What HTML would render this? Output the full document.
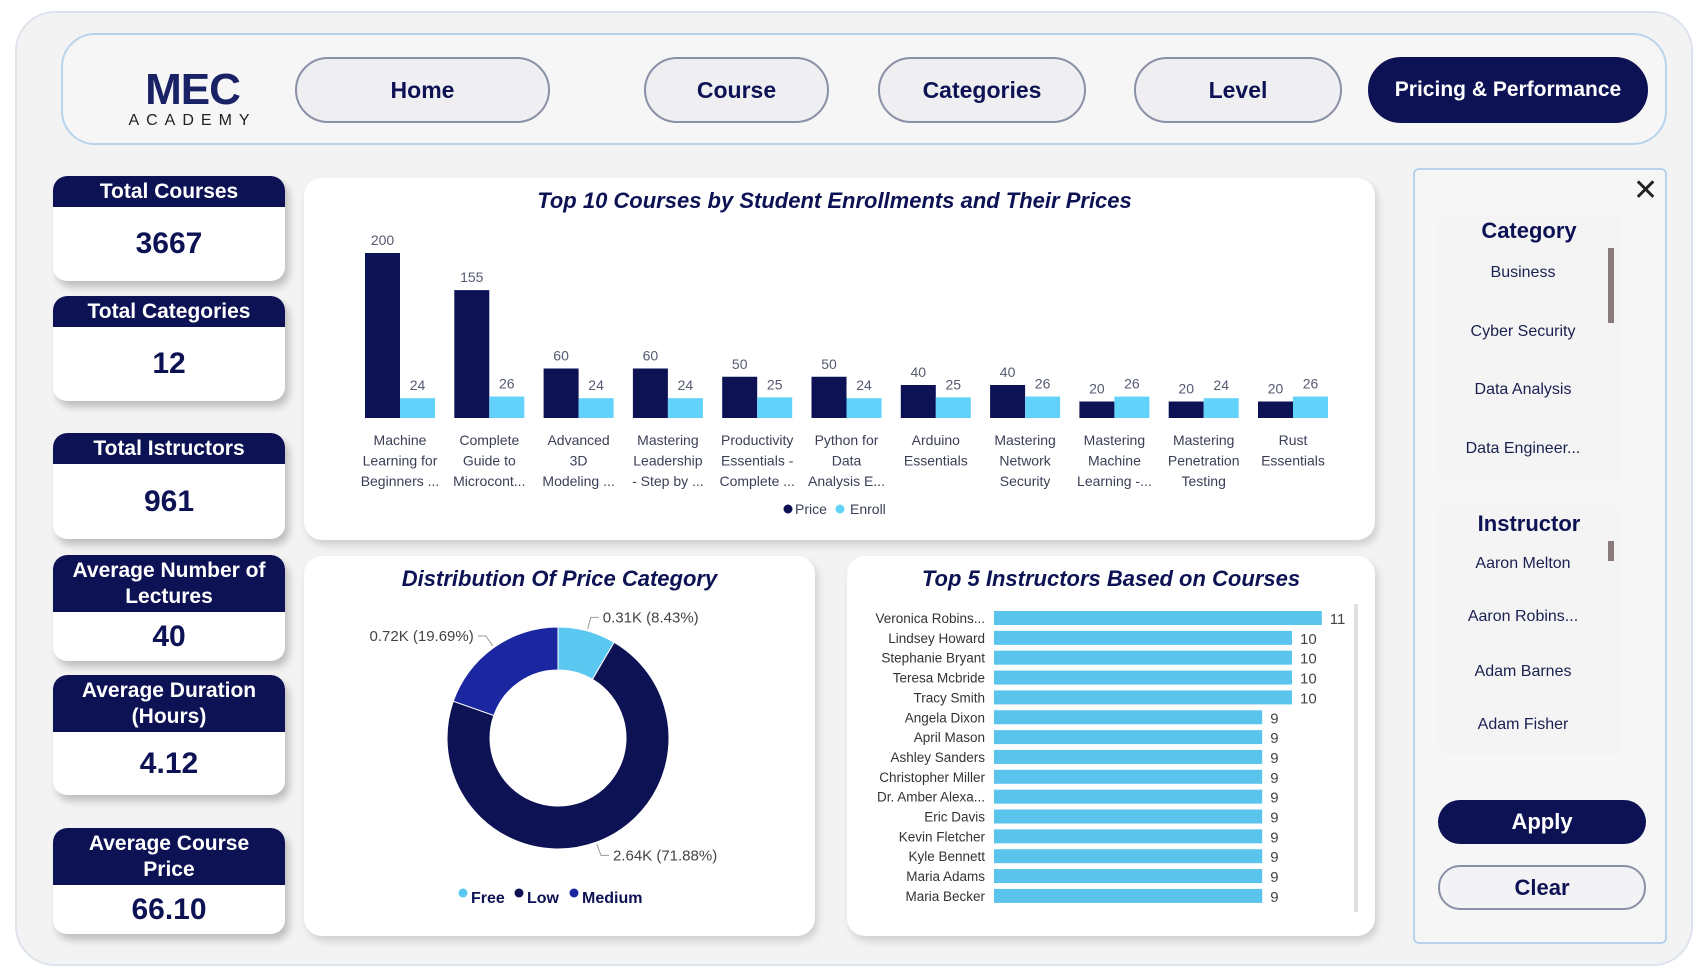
<!DOCTYPE html>
<html><head><meta charset="utf-8"><style>
*{box-sizing:border-box;margin:0;padding:0}
body{width:1700px;height:970px;background:#fff;font-family:"Liberation Sans",sans-serif;position:relative;overflow:hidden}
.abs{position:absolute}
#outer{left:15px;top:11px;width:1678px;height:955px;border:2px solid #dde3ec;border-radius:40px;background:#f3f3f3}
#header{left:61px;top:33px;width:1606px;height:112px;border:2px solid #b9d3ee;border-radius:34px;background:#f6f6f6}
.nav{position:absolute;top:57px;height:66px;border:2px solid #8a90a6;border-radius:33px;background:#efeff1;color:#0d1254;font-weight:bold;font-size:23px;display:flex;align-items:center;justify-content:center}
.nav.active{background:#0d1254;color:#fff;border-color:#0d1254;font-size:21px}
.kpi{position:absolute;left:53px;width:232px;background:#fff;border-radius:14px;box-shadow:4px 6px 8px rgba(0,0,0,.22);overflow:hidden}
.kpi .h{background:#0d1254;color:#fff;font-weight:bold;font-size:21px;text-align:center;line-height:26px;display:flex;align-items:center;justify-content:center;border-radius:14px 14px 0 0}
.kpi .v{color:#0d1254;font-weight:bold;font-size:30px;text-align:center;display:flex;align-items:center;justify-content:center}
.card{position:absolute;background:#fff;border-radius:18px;box-shadow:3px 5px 8px rgba(0,0,0,.15)}
.ctitle{position:absolute;left:0;right:0;text-align:center;font-weight:bold;color:#0d1254;font-size:22px;font-style:italic}
.slist{position:absolute;background:#f4f4f4;border-radius:10px}
.sitem{position:absolute;left:0;width:170px;text-align:center;color:#1a2050;font-size:16px}
</style></head><body>
<div id="outer" class="abs"></div>
<div id="header" class="abs"></div>
<div class="abs" style="left:125px;top:68px;width:135px;height:64px;text-align:center;color:#1a2266">
 <div style="font-size:44px;font-weight:900;line-height:44px;letter-spacing:-1px">MEC</div>
 <div style="font-size:16px;letter-spacing:7px;line-height:18px;color:#222">ACADEMY</div>
</div>
<div class="nav" style="left:295px;width:255px">Home</div>
<div class="nav" style="left:644px;width:185px">Course</div>
<div class="nav" style="left:878px;width:208px">Categories</div>
<div class="nav" style="left:1134px;width:208px">Level</div>
<div class="nav active" style="left:1368px;width:280px">Pricing &amp; Performance</div>

<div class="kpi" style="top:176px;height:105px"><div class="h" style="height:31px">Total Courses</div><div class="v" style="height:74px">3667</div></div>
<div class="kpi" style="top:296px;height:105px"><div class="h" style="height:31px">Total Categories</div><div class="v" style="height:74px">12</div></div>
<div class="kpi" style="top:433px;height:106px"><div class="h" style="height:31px">Total Istructors</div><div class="v" style="height:75px">961</div></div>
<div class="kpi" style="top:555px;height:106px"><div class="h" style="height:57px">Average Number of<br>Lectures</div><div class="v" style="height:49px">40</div></div>
<div class="kpi" style="top:675px;height:120px"><div class="h" style="height:57px">Average Duration<br>(Hours)</div><div class="v" style="height:63px">4.12</div></div>
<div class="kpi" style="top:828px;height:106px"><div class="h" style="height:57px">Average Course<br>Price</div><div class="v" style="height:49px">66.10</div></div>

<div class="card" style="left:304px;top:178px;width:1071px;height:362px"><div class="ctitle" style="top:10px;left:-10px">Top 10 Courses by Student Enrollments and Their Prices</div></div>
<div class="card" style="left:304px;top:556px;width:511px;height:380px"><div class="ctitle" style="top:10px">Distribution Of Price Category</div></div>
<div class="card" style="left:847px;top:556px;width:528px;height:380px"><div class="ctitle" style="top:10px">Top 5 Instructors Based on Courses</div></div>

<div class="abs" style="left:1413px;top:168px;width:254px;height:776px;border:2px solid #b9d3ee;border-radius:6px;background:#f6f6f6"></div>
<div class="abs" style="left:1633px;top:176px;font-size:30px;color:#222;line-height:30px">✕</div>
<div class="slist" style="left:1438px;top:214px;width:183px;height:267px">
 <div class="sitem" style="top:4px;font-size:22px;font-weight:bold;color:#0d1254;left:6px">Category</div>
 <div class="sitem" style="top:50px">Business</div>
 <div class="sitem" style="top:109px">Cyber Security</div>
 <div class="sitem" style="top:167px">Data Analysis</div>
 <div class="sitem" style="top:226px">Data Engineer...</div>
 <div class="abs" style="left:170px;top:34px;width:6px;height:75px;background:#8c7a7a"></div>
</div>
<div class="slist" style="left:1438px;top:505px;width:183px;height:250px">
 <div class="sitem" style="top:6px;font-size:22px;font-weight:bold;color:#0d1254;left:6px">Instructor</div>
 <div class="sitem" style="top:50px">Aaron Melton</div>
 <div class="sitem" style="top:103px">Aaron Robins...</div>
 <div class="sitem" style="top:158px">Adam Barnes</div>
 <div class="sitem" style="top:211px">Adam Fisher</div>
 <div class="abs" style="left:170px;top:36px;width:6px;height:20px;background:#8c7a7a"></div>
</div>
<div class="abs" style="left:1438px;top:808px;width:208px;height:44px;border-radius:22px;background:#0d1254;color:#fff;font-weight:bold;font-size:22px;display:flex;align-items:center;justify-content:center;margin-top:-8px">Apply</div>
<div class="abs" style="left:1438px;top:865px;width:208px;height:45px;border-radius:22px;border:2px solid #8a90a6;background:#f3f3f5;color:#0d1254;font-weight:bold;font-size:22px;display:flex;align-items:center;justify-content:center">Clear</div>

<svg id="charts" class="abs" style="left:0;top:0" width="1700" height="970"></svg>
<script>
const courseLabels=[["Machine","Learning for","Beginners ..."],["Complete","Guide to","Microcont..."],["Advanced","3D","Modeling ..."],["Mastering","Leadership","- Step by ..."],["Productivity","Essentials -","Complete ..."],["Python for","Data","Analysis E..."],["Arduino","Essentials"],["Mastering","Network","Security"],["Mastering","Machine","Learning -..."],["Mastering","Penetration","Testing"],["Rust","Essentials"]];
const priceValues=[200,155,60,60,50,50,40,40,20,20,20];
const enrollValues=[24,26,24,24,25,24,25,26,26,24,26];
const priceCatLabels=["Free","Low","Medium"];
const priceCatValues=[0.31,2.64,0.72];
const priceCatText=["0.31K (8.43%)","2.64K (71.88%)","0.72K (19.69%)"];
const instructorNames=["Veronica Robins...","Lindsey Howard","Stephanie Bryant","Teresa Mcbride","Tracy Smith","Angela Dixon","April Mason","Ashley Sanders","Christopher Miller","Dr. Amber Alexa...","Eric Davis","Kevin Fletcher","Kyle Bennett","Maria Adams","Maria Becker"];
const instructorCounts=[11,10,10,10,10,9,9,9,9,9,9,9,9,9,9];

const NS="http://www.w3.org/2000/svg";
const svg=document.getElementById('charts');
function mk(tag,attrs,parent){const e=document.createElementNS(NS,tag);for(const k in attrs)e.setAttribute(k,attrs[k]);(parent||svg).appendChild(e);return e;}
function txt(x,y,s,attrs,parent){const t=mk('text',Object.assign({x:x,y:y,'font-family':'Liberation Sans, sans-serif'},attrs),parent);t.textContent=s;return t;}

// top chart
const baseY=418, pxPerUnit=0.825, x0=365, step=89.3, bw=35;
const yS=v=>baseY-v*pxPerUnit;
const gTop=mk('g',{});


courseLabels.forEach((lab,i)=>{
  const gx=x0+i*step;
  const p=mk('rect',{x:gx,y:yS(priceValues[i]),width:bw,height:baseY-yS(priceValues[i]),fill:'#0d1254'},gTop);
  
  
  const e=mk('rect',{x:gx+bw,y:yS(enrollValues[i]),width:bw,height:baseY-yS(enrollValues[i]),fill:'#62d2fb'},gTop);
  
  
  txt(gx+bw/2,yS(priceValues[i])-8,String(priceValues[i]),{'text-anchor':'middle','font-size':14,fill:'#555a70'},gTop);
  txt(gx+bw*1.5,yS(enrollValues[i])-8,String(enrollValues[i]),{'text-anchor':'middle','font-size':14,fill:'#555a70'},gTop);
  lab.forEach((l,j)=>txt(gx+bw,445+j*20.5,l,{'text-anchor':'middle','font-size':14,fill:'#3a3f55'},gTop));
});
const lg=mk('g',{},gTop);


mk('circle',{cx:788,cy:509,r:4.5,fill:'#0d1254'},lg);txt(795,514,'Price',{'font-size':14,fill:'#3a3f55'},lg);
mk('circle',{cx:840,cy:509,r:4.5,fill:'#62d2fb'},lg);txt(850,514,'Enroll',{'font-size':14,fill:'#3a3f55'},lg);

// donut
const cx=558,cy=738,R=111,r=68;
const colors=['#5bc8f2','#0d1254','#1a27a0'];
const total=priceCatValues.reduce((a,b)=>a+b,0);
let ang=0;
const gD=mk('g',{});


const pt=(a,rad)=>[cx+rad*Math.sin(a),cy-rad*Math.cos(a)];
priceCatValues.forEach((v,i)=>{
  const a1=ang,a2=ang+v/total*2*Math.PI;ang=a2;
  const [x1,y1]=pt(a1,R),[x2,y2]=pt(a2,R),[x3,y3]=pt(a2,r),[x4,y4]=pt(a1,r);
  const lf=(a2-a1)>Math.PI?1:0;
  const s=mk('path',{d:`M${x1},${y1}A${R},${R} 0 ${lf} 1 ${x2},${y2}L${x3},${y3}A${r},${r} 0 ${lf} 0 ${x4},${y4}Z`,fill:colors[i],stroke:'#fff','stroke-width':1},gD);
  
  
  const mid=(a1+a2)/2;const [lx,ly]=pt(mid,R+14);
  const right=Math.sin(mid)>=0;
  const [ex,ey]=pt(mid,R+2);
  mk('polyline',{points:`${ex},${ey} ${lx},${ly} ${lx+(right?8:-8)},${ly}`,fill:'none',stroke:'#999','stroke-width':1},gD);
  txt(lx+(right?12:-12),ly+5,priceCatText[i],{'text-anchor':right?'start':'end','font-size':15,fill:'#444'},gD);
});
const dl=mk('g',{},gD);


let lx0=463;
priceCatLabels.forEach((l,i)=>{mk('circle',{cx:lx0,cy:902,r:4.5,fill:colors[i]},dl);txt(lx0+8,912,l,{'font-size':16,'font-weight':'bold',fill:'#0d1254'},dl);lx0+=[56,55,70][i];});
dl.setAttribute('transform','translate(0,-9)');

// instructor bars
const hx0=994,hPx=29.8,hy0=611,hstep=19.85,bh=14;
const gH=mk('g',{});


instructorNames.forEach((n,i)=>{
  const y=hy0+i*hstep;
  const b=mk('rect',{x:hx0,y:y,width:instructorCounts[i]*hPx,height:bh,fill:'#5bc4ec'},gH);
  
  
  txt(985,y+12,n,{'text-anchor':'end','font-size':13.5,fill:'#333'},gH);
  txt(hx0+instructorCounts[i]*hPx+8,y+13,String(instructorCounts[i]),{'font-size':15,fill:'#444'},gH);
});
const sb=mk('rect',{x:1354,y:604,width:4,height:308,fill:'#e0e0e0'},gH);


</script>
</body></html>
